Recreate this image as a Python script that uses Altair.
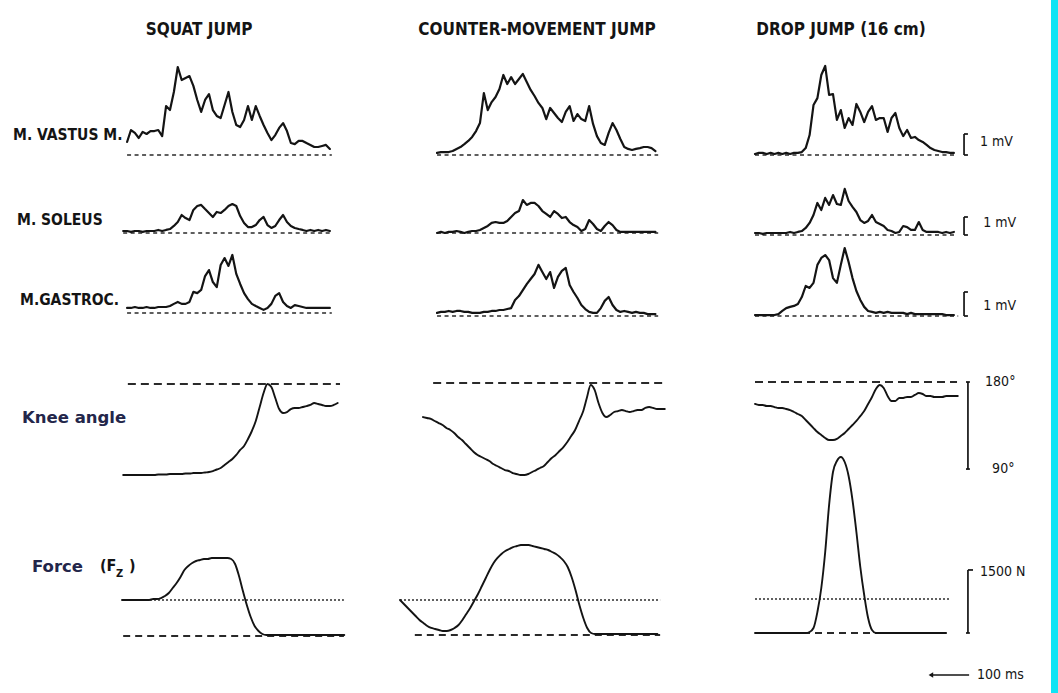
import altair as alt
import pandas as pd

# ---------------------------------------------------------------- data
DT_MS = 10  # sampling interval of every trace (ms)

titles = ["SQUAT JUMP", "COUNTER-MOVEMENT JUMP", "DROP JUMP (16 cm)"]
muscle_labels = ["M. VASTUS M.", "M. SOLEUS", "M.GASTROC."]

# EMG (mV), one value every 10 ms
vastus_sj = [0.62, 1.19, 1.05, 0.81, 1.10, 1.00, 1.14, 1.14, 1.19, 0.90, 2.33, 2.14, 3.00, 4.19, 3.57, 3.67,
             3.76, 3.29, 2.62, 2.05, 2.62, 2.90, 2.14, 1.86, 1.76, 2.38, 3.00, 2.05, 1.43, 1.33, 1.67, 2.33,
             1.67, 2.33, 1.86, 1.43, 1.05, 0.71, 0.95, 1.29, 1.52, 1.14, 0.57, 0.52, 0.67, 0.67, 0.57, 0.48,
             0.38, 0.38, 0.43, 0.48, 0.29]
vastus_cmj = [0.10, 0.14, 0.14, 0.14, 0.19, 0.29, 0.38, 0.52, 0.67, 0.86, 1.14, 1.52, 2.95, 2.14, 2.52, 2.76,
              3.14, 3.81, 3.38, 3.71, 3.38, 3.62, 3.86, 3.48, 3.10, 2.81, 2.48, 2.24, 1.71, 2.24, 2.00, 1.76,
              1.57, 2.05, 2.33, 1.62, 1.95, 1.71, 1.62, 2.33, 1.48, 0.90, 0.57, 0.48, 1.05, 1.52, 1.19, 0.76,
              0.38, 0.29, 0.24, 0.29, 0.33, 0.38, 0.38, 0.33, 0.19]
vastus_dj = [0.05, 0.10, 0.10, 0.05, 0.10, 0.05, 0.10, 0.05, 0.10, 0.05, 0.10, 0.10, 0.14, 0.33, 0.95, 2.38,
             2.71, 3.81, 4.24, 2.86, 2.90, 1.67, 2.14, 1.29, 1.76, 1.43, 2.43, 2.05, 1.57, 2.05, 2.33, 1.67,
             1.76, 1.76, 1.10, 1.76, 2.00, 1.29, 0.90, 1.19, 0.81, 0.86, 0.71, 0.62, 0.48, 0.33, 0.24, 0.19,
             0.14, 0.14, 0.10, 0.10]
soleus_sj = [0.11, 0.11, 0.06, 0.11, 0.11, 0.06, 0.11, 0.11, 0.11, 0.17, 0.11, 0.17, 0.22, 0.39, 0.61, 1.00,
             0.83, 0.72, 1.28, 1.50, 1.56, 1.33, 1.11, 0.89, 1.17, 1.11, 1.28, 1.50, 1.61, 1.50, 0.94, 0.56,
             0.33, 0.33, 0.44, 0.72, 0.89, 0.44, 0.28, 0.39, 0.72, 1.00, 0.61, 0.39, 0.28, 0.22, 0.17, 0.11,
             0.17, 0.11, 0.17, 0.11, 0.17, 0.11]
soleus_cmj = [0.00, 0.06, 0.00, 0.06, 0.06, 0.11, 0.06, 0.00, 0.06, 0.11, 0.11, 0.17, 0.28, 0.39, 0.56, 0.61,
              0.56, 0.56, 0.67, 0.89, 1.11, 1.22, 1.83, 1.56, 1.67, 1.67, 1.50, 1.22, 1.06, 0.89, 1.22, 1.06,
              0.83, 0.89, 0.61, 0.44, 0.33, 0.11, 0.22, 0.72, 0.50, 0.22, 0.11, 0.39, 0.61, 0.44, 0.17, 0.06,
              0.06, 0.06, 0.06, 0.06, 0.06, 0.06, 0.06, 0.06, 0.06]
soleus_dj = [0.11, 0.11, 0.06, 0.11, 0.11, 0.11, 0.11, 0.11, 0.11, 0.17, 0.11, 0.17, 0.22, 0.39, 0.67, 1.11,
             1.78, 1.39, 2.06, 1.67, 2.22, 1.72, 1.67, 2.56, 1.89, 1.56, 1.28, 0.83, 0.67, 0.78, 1.11, 0.72,
             0.61, 0.50, 0.28, 0.22, 0.11, 0.17, 0.50, 0.44, 0.28, 0.28, 0.72, 0.28, 0.17, 0.17, 0.17, 0.17,
             0.11, 0.17, 0.11, 0.17]
gastroc_sj = [0.21, 0.21, 0.25, 0.21, 0.21, 0.25, 0.21, 0.21, 0.25, 0.25, 0.25, 0.29, 0.38, 0.46, 0.38, 0.38,
              0.46, 0.88, 0.83, 0.96, 1.54, 1.79, 1.29, 1.08, 2.00, 2.29, 1.96, 2.42, 1.63, 1.21, 0.83, 0.58,
              0.38, 0.29, 0.21, 0.13, 0.21, 0.38, 0.71, 0.83, 0.46, 0.29, 0.21, 0.33, 0.29, 0.25, 0.21, 0.21,
              0.21, 0.21, 0.21, 0.21, 0.21]
gastroc_cmj = [0.13, 0.17, 0.17, 0.21, 0.17, 0.21, 0.21, 0.17, 0.17, 0.13, 0.13, 0.13, 0.17, 0.17, 0.21, 0.21,
               0.25, 0.25, 0.29, 0.33, 0.67, 0.83, 1.08, 1.33, 1.54, 1.75, 2.13, 1.83, 1.54, 1.83, 1.17, 1.63,
               1.88, 2.00, 1.29, 1.00, 0.75, 0.46, 0.29, 0.17, 0.13, 0.13, 0.33, 0.63, 0.79, 0.46, 0.25, 0.17,
               0.21, 0.17, 0.13, 0.17, 0.13, 0.13, 0.08, 0.08, 0.08]
gastroc_dj = [0.04, 0.04, 0.04, 0.04, 0.04, 0.04, 0.08, 0.21, 0.33, 0.38, 0.42, 0.50, 0.79, 1.25, 1.17, 1.38,
              2.13, 2.42, 2.54, 2.33, 1.58, 1.38, 2.13, 2.83, 2.25, 1.58, 1.04, 0.67, 0.38, 0.21, 0.17, 0.13,
              0.17, 0.13, 0.17, 0.13, 0.13, 0.13, 0.13, 0.08, 0.13, 0.08, 0.08, 0.08, 0.08, 0.08, 0.08, 0.08,
              0.08, 0.04, 0.04, 0.04]

# knee angle (degrees), one value every 10 ms
knee_sj = [85.9, 85.9, 85.9, 85.9, 85.9, 85.9, 85.9, 85.9, 85.9, 86.4, 86.4, 86.4, 86.9, 86.9, 86.9, 86.9,
           87.4, 87.4, 87.9, 87.9, 88.0, 88.5, 89.0, 90.0, 91.6, 93.1, 96.2, 99.3, 102.4, 106.6, 111.8, 115.9,
           123.1, 131.4, 141.7, 156.2, 170.7, 180.0, 176.9, 165.5, 154.1, 150.0, 151.0, 154.1, 155.2, 155.2,
           156.2, 157.2, 158.3, 160.4, 159.3, 158.3, 157.2, 157.2, 158.3, 160.4]
knee_cmj = [144.8, 143.8, 142.8, 140.7, 138.6, 136.6, 133.5, 131.4, 128.3, 124.2, 121.1, 116.9, 112.8, 108.7,
            105.6, 103.5, 101.4, 99.3, 96.2, 94.2, 92.1, 90.0, 89.0, 86.9, 85.9, 84.9, 84.9, 85.9, 88.0, 90.0,
            92.1, 94.2, 98.3, 102.4, 105.6, 109.7, 113.8, 119.0, 125.2, 131.4, 140.7, 150.0, 164.5, 177.9,
            172.8, 159.3, 149.0, 144.8, 146.9, 150.0, 151.0, 152.1, 151.0, 150.0, 151.0, 152.1, 152.1, 154.2,
            155.2, 154.2, 153.1, 153.1, 153.1]
knee_dj = [157.3, 156.2, 156.2, 155.2, 155.2, 154.1, 153.1, 153.1, 152.1, 151.0, 149.0, 146.9, 144.8, 140.7,
           136.6, 132.4, 128.3, 125.2, 122.1, 120.0, 120.0, 121.1, 124.2, 127.3, 131.4, 135.5, 139.7, 144.8,
           150.0, 157.3, 164.5, 172.8, 176.9, 173.8, 165.5, 160.4, 160.4, 163.5, 163.5, 164.5, 164.5, 166.6,
           168.6, 167.6, 165.5, 165.5, 164.5, 164.5, 164.5, 165.5, 165.5, 165.5, 165.5]

# vertical ground reaction force Fz (N), one value every 10 ms
force_sj = [857, 857, 857, 857, 857, 857, 857, 857, 881, 881, 904, 952, 1023, 1142, 1261, 1404, 1571, 1666,
            1737, 1785, 1809, 1833, 1833, 1856, 1856, 1856, 1856, 1856, 1833, 1714, 1428, 1071, 738, 452, 238,
            119, 48, 24, 24, 24, 24, 24, 24, 24, 24, 24, 24, 24, 24, 24, 24, 24, 24, 24, 24, 24, 24, 24]
force_cmj = [833, 738, 643, 547, 452, 357, 286, 214, 167, 143, 119, 95, 95, 119, 167, 238, 357, 500, 643, 809,
             976, 1166, 1357, 1547, 1714, 1833, 1928, 1999, 2047, 2094, 2118, 2142, 2142, 2142, 2118, 2094,
             2071, 2047, 2023, 1975, 1928, 1856, 1761, 1618, 1380, 1071, 714, 405, 167, 48, 24, 24, 24, 24,
             24, 24, 24, 24, 24, 24, 24, 24, 24, 24, 24, 24, 24]
force_dj = [0, 0, 0, 0, 0, 0, 0, 0, 0, 0, 0, 0, 0, 0, 24, 119, 500, 1071, 1928, 3046, 3832, 4094, 4189, 4070,
            3737, 3165, 2404, 1571, 904, 357, 71, 0, 0, 0, 0, 0, 0, 0, 0, 0, 0, 0, 0, 0, 0, 0, 0, 0, 0, 0]

# start of every trace (ms after the start of its record)
start_sj = [13, 3, 13, 3, 0]      # vastus, soleus, gastroc, knee, force
start_cmj = [95, 95, 95, 59, 0]
start_dj = [0, 0, 0, 0, 0]

# reference levels and their time spans (ms)
knee_full_extension = 180
body_weight = [857, 833, 809]
emg_base_span = [[(13, 538), (3, 533), (13, 538)], [(95, 662), (95, 662), (95, 662)],
                 [(0, 513), (0, 518), (0, 521)]]
knee_ref_span = [(15, 559), (85, 685), (0, 518)]
bw_span = [(0, 569), (0, 667), (0, 500)]
zero_span = [(3, 569), (38, 667), (0, 492)]

# calibration marks
emg_cal_mv = 1
knee_cal = (90, 180)
force_cal_n = 1500
time_cal_ms = 100

# ---------------------------------------------------------------- layout (pixels)
PX_PER_MS = 0.39
COLS = [(0, 390, 122), (390, 720, 400), (720, 1051, 755)]    # left, right, pixel of t = 0
EDGE_W = 7
ROWS = {"title": (0, 50), "vastus": (50, 170), "soleus": (170, 250), "gastroc": (250, 335),
        "knee": (335, 490), "force": (490, 693)}
ROW_ORDER = ["title", "vastus", "soleus", "gastroc", "knee", "force"]
# pixel of the reference level in each column, reference value, units per pixel
YREF = {"vastus": ((155, 155, 155), 0, 1 / 21),
        "soleus": ((233, 233, 235), 0, 1 / 18),
        "gastroc": ((313, 316, 316), 0, 1 / 24),
        "knee": ((384, 383, 382), 180, 1.034),
        "force": ((636, 635, 633), 0, 23.8)}

INK = "#141414"
FONT_C = "DejaVu Sans Condensed, Liberation Sans Narrow, Arial Narrow, sans-serif"
FONT_B = "DejaVu Sans, Verdana, sans-serif"


def x_scale(ci):
    left, right, t0 = COLS[ci]
    return alt.Scale(domain=[(left - t0) / PX_PER_MS, (right - t0) / PX_PER_MS], nice=False, zero=False)


def y_scale(row, ci):
    top, bot = ROWS[row]
    refs, rv, upp = YREF[row]
    yr = refs[ci]
    return alt.Scale(domain=[rv + (yr - bot) * upp, rv + (yr - top) * upp], nice=False, zero=False)


def trace(xs, ys, vals, t0, width=2.0, interp="linear"):
    df = pd.DataFrame({"t": [t0 + DT_MS * i for i in range(len(vals))], "v": vals})
    return alt.Chart(df).mark_line(color=INK, strokeWidth=width, interpolate=interp,
                                   strokeJoin="round", strokeCap="round").encode(
        x=alt.X("t:Q", scale=xs, axis=None), y=alt.Y("v:Q", scale=ys, axis=None))


def hrule(xs, ys, t1, t2, v, dash=None, width=1.5, color=INK):
    df = pd.DataFrame({"t1": [t1], "t2": [t2], "v": [v]})
    kw = dict(strokeWidth=width, color=color)
    if dash:
        kw["strokeDash"] = dash
    return alt.Chart(df).mark_rule(**kw).encode(
        x=alt.X("t1:Q", scale=xs, axis=None), x2="t2:Q", y=alt.Y("v:Q", scale=ys, axis=None))


def vrule(xs, ys, t, v1, v2, width=1.7):
    df = pd.DataFrame({"t": [t], "v1": [v1], "v2": [v2]})
    return alt.Chart(df).mark_rule(strokeWidth=width, color=INK).encode(
        x=alt.X("t:Q", scale=xs, axis=None), y=alt.Y("v1:Q", scale=ys, axis=None), y2="v2:Q")


def data_text(xs, ys, t, v, s, size=15):
    df = pd.DataFrame({"t": [t], "v": [v], "s": [s]})
    return alt.Chart(df).mark_text(align="left", baseline="middle", font=FONT_C, fontSize=size,
                                   fontWeight="normal", color=INK).encode(
        x=alt.X("t:Q", scale=xs, axis=None), y=alt.Y("v:Q", scale=ys, axis=None), text="s:N")


def px_text(px, py, s, size=17, font=FONT_C, weight="bold", color=INK, align="left"):
    return alt.Chart(alt.Data(values=[{"s": s}])).mark_text(
        align=align, baseline="middle", font=font, fontSize=size, fontWeight=weight, color=color).encode(
        x=alt.value(px), y=alt.value(py), text="s:N")


emg = [[vastus_sj, soleus_sj, gastroc_sj], [vastus_cmj, soleus_cmj, gastroc_cmj],
       [vastus_dj, soleus_dj, gastroc_dj]]
knees = [knee_sj, knee_cmj, knee_dj]
forces = [force_sj, force_cmj, force_dj]
starts = [start_sj, start_cmj, start_dj]
title_centers = [199, 537, 841]
emg_rows = ["vastus", "soleus", "gastroc"]

# pixel positions of the left-hand labels (within their rows)
label_pos = [(13, 85), (17, 50), (20, 50)]
# calibration positions in the drop-jump panels (ms)
cal_t = 536
cal_text_t = [577, 585, 585]
cal_text_v = [0.6, 0.67, 0.4]


def cell(row, ci):
    left, right, _ = COLS[ci]
    w = right - left
    top, bot = ROWS[row]
    h = bot - top
    if row == "title":
        return px_text(title_centers[ci] - left, 30, titles[ci], size=17, weight="bold",
                       align="center").properties(width=w, height=h)
    xs = x_scale(ci)
    ys = y_scale(row, ci)
    if row in emg_rows:
        ri = emg_rows.index(row)
        t1, t2 = emg_base_span[ci][ri]
        layers = [hrule(xs, ys, t1, t2, 0, dash=[4, 3.5], width=1.7, color="#2a2a2a"),
                  trace(xs, ys, emg[ci][ri], starts[ci][ri], width=2.2)]
        if ci == 0:
            layers.append(px_text(label_pos[ri][0], label_pos[ri][1], muscle_labels[ri], size=15.5,
                                  weight="bold"))
        if ci == 2:
            layers += [vrule(xs, ys, cal_t, 0, emg_cal_mv),
                       hrule(xs, ys, cal_t, cal_t + 10, 0, width=1.7),
                       hrule(xs, ys, cal_t, cal_t + 10, emg_cal_mv, width=1.7),
                       data_text(xs, ys, cal_text_t[ri], cal_text_v[ri], "1 mV", size=14)]
    elif row == "knee":
        t1, t2 = knee_ref_span[ci]
        layers = [hrule(xs, ys, t1, t2, knee_full_extension, dash=[8, 5], width=2.0, color="#2a2a2a"),
                  trace(xs, ys, knees[ci], starts[ci][3], width=1.9, interp="monotone")]
        if ci == 0:
            layers.append(px_text(22, 83, "Knee angle", size=16.5, font=FONT_B, weight="bold",
                                  color="#23264a"))
        if ci == 2:
            layers += [vrule(xs, ys, 546, knee_cal[0], knee_cal[1]),
                       hrule(xs, ys, 541, 551, knee_cal[1], width=1.7),
                       hrule(xs, ys, 541, 551, knee_cal[0], width=1.7),
                       data_text(xs, ys, 590, knee_cal[1], "180°", size=14),
                       data_text(xs, ys, 608, knee_cal[0], "90°", size=14)]
    else:
        b1, b2 = bw_span[ci]
        z1, z2 = zero_span[ci]
        layers = [hrule(xs, ys, b1, b2, body_weight[ci], dash=[2, 2], width=1.4, color="#2e2e2e"),
                  hrule(xs, ys, z1, z2, 0, dash=[7, 5], width=2.0, color="#2a2a2a"),
                  trace(xs, ys, forces[ci], starts[ci][4], width=1.9, interp="monotone")]
        if ci == 0:
            layers += [px_text(32, 77, "Force", size=16.5, font=FONT_B, weight="bold", color="#23264a"),
                       px_text(100, 76, "(F", size=16, weight="bold"),
                       px_text(116, 84, "Z", size=11, weight="bold"),
                       px_text(129, 76, ")", size=16, weight="bold")]
        if ci == 2:
            layers += [vrule(xs, ys, 546, 0, force_cal_n),
                       hrule(xs, ys, 546, 559, force_cal_n, width=1.7),
                       hrule(xs, ys, 541, 551, 0, width=1.7),
                       data_text(xs, ys, 577, force_cal_n - 50, "1500 N", size=14),
                       hrule(xs, ys, 449, 449 + time_cal_ms, -1000, width=1.4),
                       alt.Chart(pd.DataFrame({"t": [451], "v": [-1000]})).mark_point(
                           shape="triangle-left", filled=True, size=28, color=INK, opacity=1).encode(
                           x=alt.X("t:Q", scale=xs, axis=None), y=alt.Y("v:Q", scale=ys, axis=None)),
                       data_text(xs, ys, 569, -1000, "100 ms", size=14)]
    return alt.layer(*layers).properties(width=w, height=h)


def edge(row):
    top, bot = ROWS[row]
    return alt.Chart(alt.Data(values=[{"e": 1}])).mark_rect(color="#10e4f4").encode(
        x=alt.value(0), x2=alt.value(EDGE_W), y=alt.value(0), y2=alt.value(bot - top)).properties(
        width=EDGE_W, height=bot - top)


cells = []
for row in ROW_ORDER:
    for ci in range(3):
        cells.append(cell(row, ci))
    cells.append(edge(row))

chart = alt.concat(*cells, columns=4, spacing=0, bounds="flush").properties(
    padding=0, background="white").configure_view(stroke=None)

chart.save("out.html", embed_options={"renderer": "svg", "actions": False})
